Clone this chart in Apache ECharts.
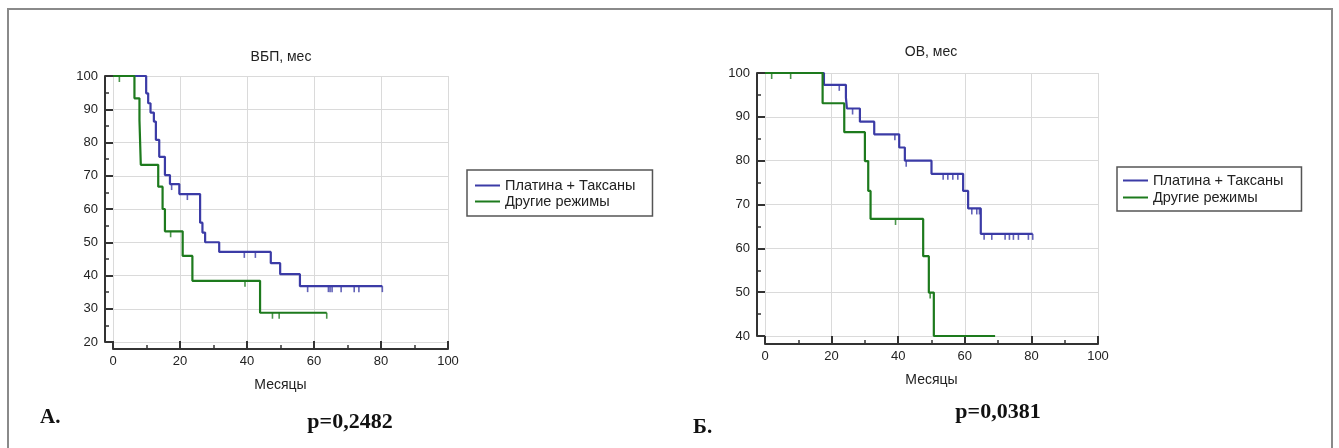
<!DOCTYPE html>
<html>
<head>
<meta charset="utf-8">
<script src="https://cdn.jsdelivr.net/npm/echarts@6/dist/echarts.min.js"></script>
<style>
  html, body { margin: 0; padding: 0; background: #fff; }
  #chart { width: 1339px; height: 448px; }
</style>
</head>
<body>
<div id="chart"></div>
<script>
// Kaplan–Meier curves: each step is [month, % after the event at that month]
const seriesNames = ['Платина + Таксаны', 'Другие режимы'];

// ВБП, мес
const pfsPlatinum = [
  [0, 100], [9.9, 94.8], [10.5, 91.8], [11.2, 89.0], [12.2, 86.3], [12.8, 80.8],
  [13.8, 75.7], [15.5, 70.2], [17.0, 67.5], [19.8, 64.5], [26.0, 55.9], [26.7, 52.9],
  [27.5, 50.0], [31.7, 47.1], [47.1, 43.7], [49.9, 40.4], [55.8, 36.8], [80.4, 36.8]
];
const pfsPlatinumCensored = [17.5, 22.2, 39.2, 42.5, 58.1, 64.3, 64.8, 65.4, 68.1, 72.0, 73.4, 80.4];
const pfsOther = [
  [0, 100], [6.4, 93.3], [7.9, 86.7], [8.3, 73.3], [13.5, 66.7], [14.8, 60.0],
  [15.5, 53.3], [20.8, 45.9], [23.7, 38.4], [43.9, 28.8], [63.8, 28.8]
];
const pfsOtherCensored = [1.9, 17.2, 39.4, 47.6, 49.6, 63.8];

// ОВ, мес
const osPlatinum = [
  [0, 100], [17.7, 97.3], [24.3, 94.4], [24.6, 91.9], [28.5, 88.9], [32.8, 86.0],
  [40.3, 83.0], [42.0, 80.0], [50.0, 77.0], [59.5, 73.1], [61.0, 69.1], [64.8, 63.3],
  [80.4, 63.3]
];
const osPlatinumCensored = [22.3, 26.3, 39.0, 42.4, 53.5, 54.9, 56.4, 57.9, 62.1, 63.6, 64.4,
  65.8, 68.1, 72.1, 73.4, 74.6, 76.1, 79.1, 80.4];
const osOther = [
  [0, 100], [17.3, 93.1], [23.8, 86.5], [30.0, 79.9], [31.0, 73.1], [31.7, 66.7],
  [47.5, 58.2], [49.2, 49.9], [50.7, 40.0], [69.1, 40.0]
];
const osOtherCensored = [2.0, 7.7, 39.2, 49.6];

const monthTicks = { min: 0, max: 100, interval: 20 };
const pfsPercentTicks = { min: 20, max: 100, interval: 10 };
const osPercentTicks = { min: 40, max: 100, interval: 10 };

const chartTitles = ['ВБП, мес', 'ОВ, мес'];
const xAxisName = 'Месяцы';
const panelLabels = ['А.', 'Б.'];
const pValues = ['p=0,2482', 'p=0,0381'];

const BLUE = '#3b3ba6';
const GREEN = '#1d7a1d';
const AXIS = '#333';
const SANS = '"Liberation Sans", Arial, Helvetica, sans-serif';
const SERIF = '"Liberation Serif", "Times New Roman", serif';

// value of a step curve at month t
function valueAt(steps, t) {
  let v = steps[0][1];
  for (const [m, s] of steps) { if (m <= t) v = s; else break; }
  return v;
}

function xAxisFor(gridIndex, offset) {
  return {
    type: 'value', gridIndex, ...monthTicks, offset,
    name: xAxisName, nameLocation: 'middle', nameGap: 29,
    nameTextStyle: { fontSize: 14, color: '#222', fontFamily: SANS },
    axisLine: { show: true, onZero: false, lineStyle: { color: AXIS, width: 2 } },
    axisTick: { show: true, inside: true, length: 8, lineStyle: { color: AXIS, width: 2 } },
    minorTick: { show: true, splitNumber: 2, length: 4, lineStyle: { color: AXIS, width: 1.5 } },
    axisLabel: { fontSize: 13, color: '#222', margin: 6, fontFamily: SANS },
    splitLine: { show: true, lineStyle: { color: '#dadada', width: 1 } }
  };
}
function yAxisFor(gridIndex, ticks, offset) {
  return {
    type: 'value', gridIndex, ...ticks, offset,
    axisLine: { show: true, onZero: false, lineStyle: { color: AXIS, width: 2 } },
    axisTick: { show: true, inside: true, length: 8, lineStyle: { color: AXIS, width: 2 } },
    minorTick: { show: true, splitNumber: 2, length: 4, lineStyle: { color: AXIS, width: 1.5 } },
    axisLabel: { fontSize: 13, color: '#222', margin: 7, fontFamily: SANS },
    splitLine: { show: true, lineStyle: { color: '#dadada', width: 1 } }
  };
}

function curve(name, steps, color, idx) {
  return {
    name, type: 'line', step: 'end', data: steps,
    xAxisIndex: idx, yAxisIndex: idx, symbol: 'none', clip: false,
    lineStyle: { color, width: 2.2 }, itemStyle: { color },
    emphasis: { disabled: true }, z: 3
  };
}
function censored(name, steps, times, color, idx) {
  return {
    name, type: 'scatter', xAxisIndex: idx, yAxisIndex: idx, clip: false,
    data: times.map(t => [t, valueAt(steps, t)]),
    symbol: 'rect', symbolSize: [1.6, 6], symbolOffset: [0, 3],
    itemStyle: { color }, emphasis: { disabled: true }, z: 4
  };
}

// legend entries drawn as a short flat line
function legendFor(left, top, padding, gap) {
  return {
    left, top, orient: 'vertical',
    data: seriesNames.map(name => ({ name, icon: 'rect' })),
    borderColor: '#555', borderWidth: 1.5, padding, itemGap: gap,
    itemWidth: 25, itemHeight: 2, selectedMode: false,
    textStyle: { fontSize: 14.5, color: '#222', fontFamily: SANS, lineHeight: 15 }
  };
}

const chart = echarts.init(document.getElementById('chart'), null, { renderer: 'canvas' });
chart.setOption({
  animation: false,
  backgroundColor: '#fff',
  textStyle: { fontFamily: SANS },
  grid: [
    { left: 113, top: 76, width: 335, height: 266 },
    { left: 765, top: 73, width: 333, height: 263 }
  ],
  xAxis: [xAxisFor(0, 7), xAxisFor(1, 8)],
  yAxis: [yAxisFor(0, pfsPercentTicks, 8), yAxisFor(1, osPercentTicks, 8)],
  legend: [
    legendFor(467, 170, [8, 17, 7, 8], 1),
    legendFor(1117, 167, [6, 18, 6, 6], 2)
  ],
  series: [
    curve(seriesNames[0], pfsPlatinum, BLUE, 0),
    curve(seriesNames[1], pfsOther, GREEN, 0),
    censored('pfs-platinum-censored', pfsPlatinum, pfsPlatinumCensored, BLUE, 0),
    censored('pfs-other-censored', pfsOther, pfsOtherCensored, GREEN, 0),
    curve(seriesNames[0], osPlatinum, BLUE, 1),
    curve(seriesNames[1], osOther, GREEN, 1),
    censored('os-platinum-censored', osPlatinum, osPlatinumCensored, BLUE, 1),
    censored('os-other-censored', osOther, osOtherCensored, GREEN, 1)
  ],
  graphic: [
    { type: 'rect', shape: { x: 8, y: 9, width: 1324, height: 470 },
      style: { fill: null, stroke: '#8a8a8a', lineWidth: 2 }, silent: true },
    { type: 'text', x: 281, y: 57, style: { text: chartTitles[0], font: '14px ' + SANS,
      fill: '#222', textAlign: 'center', textVerticalAlign: 'middle' } },
    { type: 'text', x: 931, y: 52, style: { text: chartTitles[1], font: '14px ' + SANS,
      fill: '#222', textAlign: 'center', textVerticalAlign: 'middle' } },
    { type: 'text', x: 40, y: 418, style: { text: panelLabels[0], font: 'bold 21px ' + SERIF,
      fill: '#111', textAlign: 'left', textVerticalAlign: 'middle' } },
    { type: 'text', x: 350, y: 422, style: { text: pValues[0], font: 'bold 22px ' + SERIF,
      fill: '#111', textAlign: 'center', textVerticalAlign: 'middle' } },
    { type: 'text', x: 693, y: 428, style: { text: panelLabels[1], font: 'bold 21px ' + SERIF,
      fill: '#111', textAlign: 'left', textVerticalAlign: 'middle' } },
    { type: 'text', x: 998, y: 412, style: { text: pValues[1], font: 'bold 22px ' + SERIF,
      fill: '#111', textAlign: 'center', textVerticalAlign: 'middle' } }
  ]
});
</script>
</body>
</html>
